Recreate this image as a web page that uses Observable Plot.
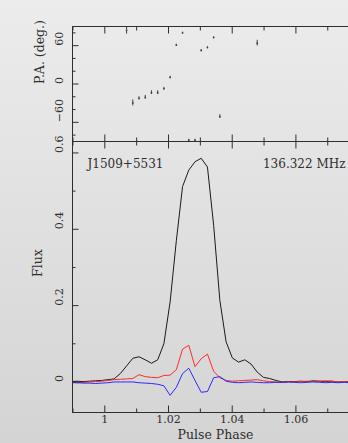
<!DOCTYPE html>
<html><head><meta charset="utf-8">
<script src="https://cdn.jsdelivr.net/npm/d3@7"></script>
<script src="https://cdn.jsdelivr.net/npm/@observablehq/plot@0.6"></script>
<style>
html,body{margin:0;padding:0;}
body{width:348px;height:443px;overflow:hidden;background:linear-gradient(#ececec,#d4d4d4);font-family:"DejaVu Serif",serif;}
#chart svg{display:block;}
</style></head><body><div id="chart"></div>
<script>
// ---- data ----
const phase = [0.98926,0.99121,0.99316,0.99512,0.99707,0.99902,1.00098,1.00293,1.00488,1.00684,
  1.00879,1.01074,1.01270,1.01465,1.01660,1.01855,1.02051,1.02246,1.02441,1.02637,
  1.02832,1.03027,1.03223,1.03418,1.03613,1.03809,1.04004,1.04199,1.04395,1.04590,
  1.04785,1.04980,1.05176,1.05371,1.05566,1.05762,1.05957,1.06152,1.06348,1.06543,
  1.06738,1.06934,1.07129,1.07324,1.07520,1.07715];
const fluxI = [0.001,0.002,0.001,0.002,0.003,0.004,0.006,0.008,0.022,0.042,
  0.062,0.066,0.058,0.049,0.058,0.100,0.210,0.370,0.512,0.555,
  0.577,0.586,0.563,0.410,0.213,0.105,0.063,0.052,0.058,0.047,
  0.026,0.012,0.009,0.004,0.000,0.001,0.001,0.002,0.001,0.003,
  0.002,0.001,0.002,0.000,0.001,0.000];
const fluxL = [-0.002,-0.002,-0.001,0.000,0.001,0.002,0.004,0.006,0.007,0.008,
  0.009,0.019,0.014,0.012,0.011,0.017,0.018,0.032,0.086,0.096,
  0.040,0.061,0.073,0.028,0.011,0.004,0.002,0.003,0.004,0.005,
  0.006,0.003,0.001,0.000,-0.001,0.000,0.000,0.001,0.002,0.001,
  0.002,0.003,0.002,0.000,0.001,0.000];
const fluxV = [-0.001,-0.002,-0.003,-0.003,-0.004,-0.003,-0.002,0.000,0.000,0.000,
  0.000,-0.002,-0.003,-0.004,-0.006,-0.010,-0.035,-0.014,0.022,0.036,
  0.004,-0.027,-0.025,0.011,0.014,0.002,-0.001,-0.002,-0.001,0.000,
  -0.001,-0.002,-0.002,-0.001,-0.001,0.000,-0.001,-0.002,-0.001,0.000,
  -0.001,-0.002,-0.001,-0.002,-0.001,-0.002];
const paPhase = [1.00684,1.00879,1.01074,1.01270,1.01465,1.01660,1.01855,1.02051,1.02246,
  1.02441,1.02637,1.02832,1.03027,1.03223,1.03418,1.03613,1.04785];
const paDeg = [84,-29.6,-22.4,-20.9,-13.6,-13.6,-7.3,10.3,60.8,80,-88,-88,52.4,57,72.6,-51,63.9];
const paErr = [6,4.7,2.5,3,3,3,2,1.8,1.5,1.2,1.5,1.5,1.5,1.5,1.5,3,4.5];

const xMajor = [1, 1.02, 1.04, 1.06];
const xTickLabels = ["1", "1.02", "1.04", "1.06"];
const xMinor = [0.99, 1.01, 1.03, 1.05, 1.07];
const paMajor = [-60, 0, 60];
const paTickLabels = ["\u221260", "0", "60"];
const paMinor = [-80, -40, -20, 20, 40, 80];
const fluxMajor = [0, 0.2, 0.4, 0.6];
const fluxTickLabels = ["0", "0.2", "0.4", "0.6"];
const fluxMinor = [0.1, 0.3, 0.5];

const sourceName = "J1509+5531";
const freqLabel = "136.322 MHz";

// ---- layout ----
const W = 348;
const xDomain = [0.98986, 1.07651];
const ink = "#2e2e2e";
const baseStyle = {background: "transparent", fontFamily: "DejaVu Serif, serif", fontSize: "11px", color: ink, overflow: "visible"};
const MAJ = -6.5, MIN = -3.5;

function tickMarks(xMaj, xMin, yMaj, yMin, xAnchors) {
  const m = [];
  for (const a of xAnchors) {
    m.push(Plot.axisX(xMaj, {anchor: a, tickSize: MAJ, tickFormat: () => "", label: null, stroke: ink}));
    m.push(Plot.axisX(xMin, {anchor: a, tickSize: MIN, tickFormat: () => "", label: null, stroke: ink}));
  }
  m.push(Plot.axisY(yMaj, {anchor: "left", tickSize: MAJ, tickFormat: () => "", label: null, stroke: ink}));
  m.push(Plot.axisY(yMin, {anchor: "left", tickSize: MIN, tickFormat: () => "", label: null, stroke: ink}));
  return m;
}

const paIdx = d3.range(paPhase.length);

const topPlot = Plot.plot({
  width: W, height: 141,
  marginTop: 26, marginBottom: 0, marginLeft: 72, marginRight: 0,
  style: baseStyle,
  x: {domain: xDomain},
  y: {domain: [-90, 90]},
  marks: [
    Plot.ruleX(paIdx, {x: i => paPhase[i], y1: i => paDeg[i] - paErr[i], y2: i => paDeg[i] + paErr[i], stroke: "#444", strokeWidth: 1, clip: true}),
    Plot.dot(paIdx, {x: i => paPhase[i], y: i => paDeg[i], r: 0.9, fill: "#444", stroke: "none", clip: true}),
    Plot.ruleY([-90, 90], {stroke: ink, strokeWidth: 1}),
    Plot.ruleX([xDomain[0]], {stroke: ink, strokeWidth: 1}),
    ...tickMarks(xMajor, xMinor, paMajor, paMinor, ["top", "bottom"]),
    Plot.text(paMajor, {frameAnchor: "left", y: d => d, text: paTickLabels, rotate: -90, dx: -13, fontSize: 11, fill: ink}),
    Plot.text(["P.A. (deg.)"], {frameAnchor: "left", text: d => d, rotate: -90, dx: -33, fontSize: 12.5, fill: ink})
  ]
});

const botPlot = Plot.plot({
  width: W, height: 302,
  marginTop: 0, marginBottom: 31, marginLeft: 72, marginRight: 0,
  style: baseStyle,
  x: {domain: xDomain},
  y: {domain: [-0.08, 0.63]},
  marks: [
    Plot.lineY(fluxI, {x: phase, stroke: "#1a1a1a", strokeWidth: 1, clip: true}),
    Plot.lineY(fluxL, {x: phase, stroke: "#ff2a2a", strokeWidth: 1, clip: true}),
    Plot.lineY(fluxV, {x: phase, stroke: "#2a2aff", strokeWidth: 1, clip: true}),
    Plot.ruleY([-0.08, 0.63], {stroke: ink, strokeWidth: 1}),
    Plot.ruleX([xDomain[0]], {stroke: ink, strokeWidth: 1}),
    ...tickMarks(xMajor, xMinor, fluxMajor, fluxMinor, ["top", "bottom"]),
    Plot.text(fluxMajor, {frameAnchor: "left", y: d => d, text: fluxTickLabels, rotate: -90, dx: -13, fontSize: 11, fill: ink}),
    Plot.text(["Flux"], {frameAnchor: "left", text: d => d, rotate: -90, dx: -35, fontSize: 12.5, fill: ink}),
    Plot.text(xMajor, {x: d => d, frameAnchor: "bottom", text: xTickLabels, dy: 10, fontSize: 11, fill: ink}),
    Plot.text(["Pulse Phase"], {frameAnchor: "bottom", text: d => d, dy: 26, dx: 5, fontSize: 12.5, fill: ink}),
    Plot.text([sourceName], {frameAnchor: "top-left", text: d => d, dx: 15, dy: 18, textAnchor: "start", fontSize: 12, fill: ink}),
    Plot.text([freqLabel], {frameAnchor: "top-right", text: d => d, dx: -3, dy: 18, textAnchor: "end", fontSize: 12, fill: ink})
  ]
});

const el = document.getElementById("chart");
el.append(topPlot, botPlot);
</script>
</body></html>
